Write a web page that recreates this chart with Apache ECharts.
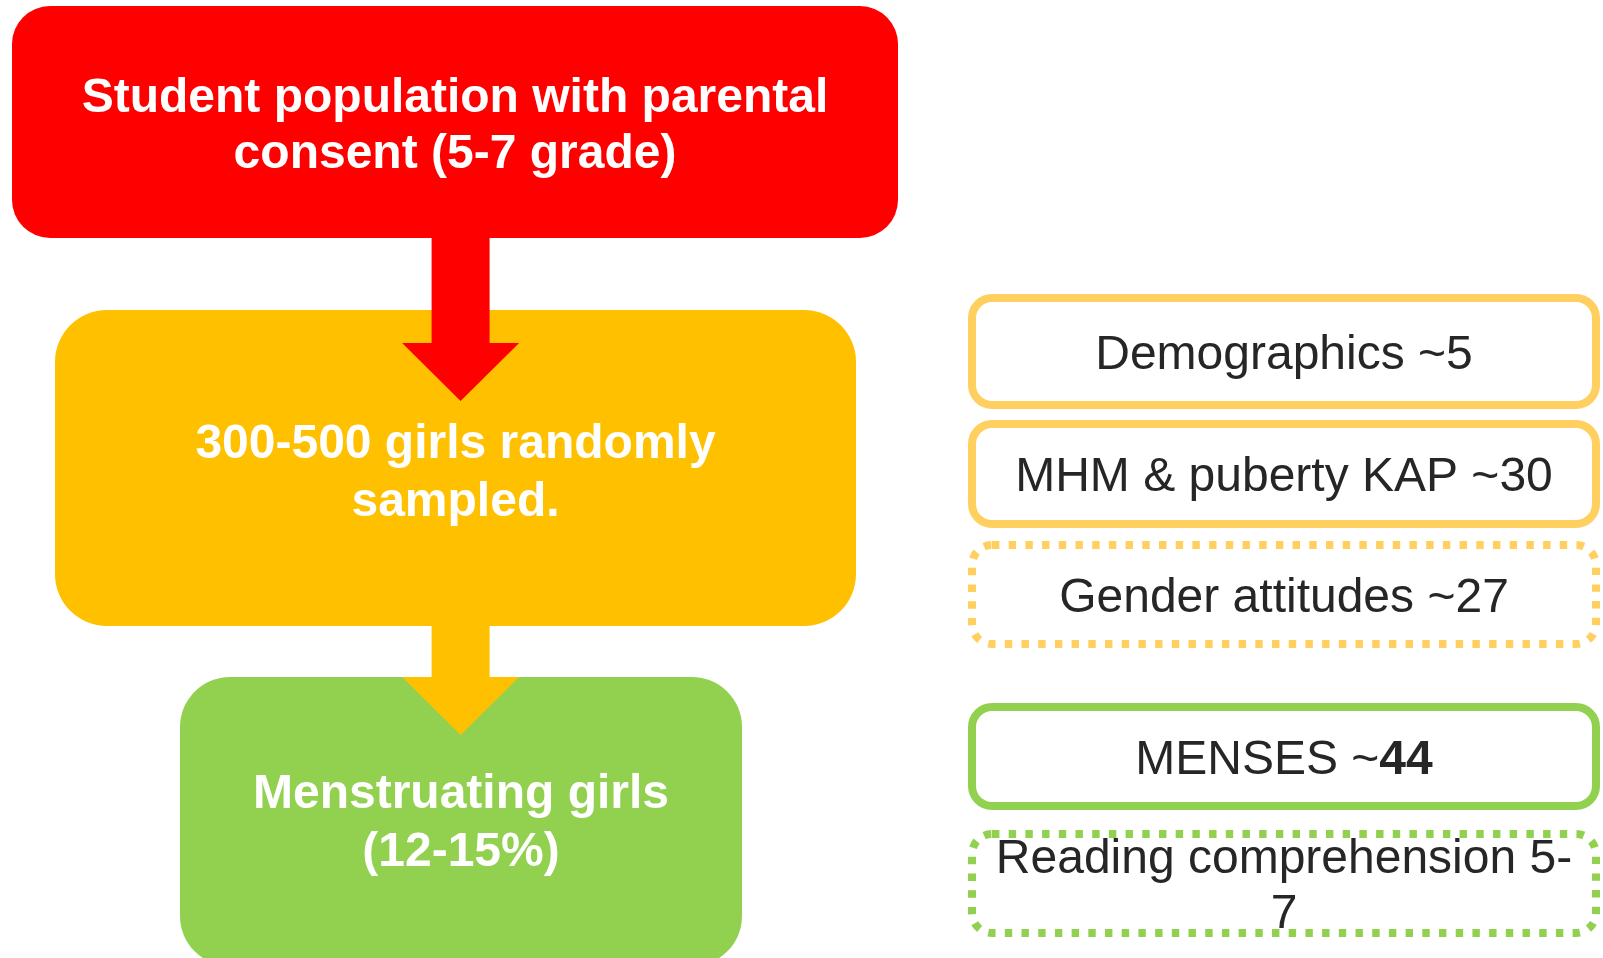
<!DOCTYPE html>
<html>
<head>
<meta charset="utf-8">
<script src="https://cdn.jsdelivr.net/npm/echarts@6/dist/echarts.min.js"></script>
<style>
html,body{margin:0;padding:0;background:#fff;}
#chart{width:1603px;height:958px;}
</style>
</head>
<body>
<div id="chart"></div>
<script>
// ---- content (data) ----
const stageLabels = [
  'Student population with parental\nconsent (5-7 grade)',
  '300-500 girls randomly\nsampled.',
  'Menstruating girls\n(12-15%)'
];
const moduleLabels = [
  'Demographics ~5',
  'MHM & puberty KAP ~30',
  'Gender attitudes ~27',
  'MENSES ~{b|44}',
  'Reading comprehension 5-\n7'
];
const arrowLinks = [[0, 1], [1, 2]];

// ---- layout & styles (pixel units of the hidden axes) ----
const TEXT_SHIFT = 4;
const stageLayout = [
  {x0: 12, y0: 6,   x1: 898, y1: 238, r: 38, color: '#FF0000', ty: 122.8, lh: 56},
  {x0: 55, y0: 310, x1: 856, y1: 626, r: 52, color: '#FFC000', ty: 469.8, lh: 58},
  {x0: 180, y0: 677, x1: 742, y1: 966, r: 50, color: '#92D050', ty: 819.8, lh: 58}
];
const arrowLayout = [
  {cx: 460.6, y0: 238, yh: 343, y1: 401, shaftW: 58, headW: 117, color: '#FF0000'},
  {cx: 460.6, y0: 626, yh: 677, y1: 735, shaftW: 58, headW: 117, color: '#FFC000'}
];
const moduleX = [972, 1596];
const moduleLayout = [
  {y0: 298, y1: 405, color: '#FFCF5F', dotted: false, fs: 48, lh: 55},
  {y0: 424, y1: 524, color: '#FFCF5F', dotted: false, fs: 48, lh: 55},
  {y0: 545, y1: 644, color: '#FFCF5F', dotted: true,  fs: 48, lh: 55},
  {y0: 707, y1: 806, color: '#92D050', dotted: false, fs: 48, lh: 55},
  {y0: 834, y1: 933, color: '#92D050', dotted: true,  fs: 48, lh: 55}
];

const FONT = '"Liberation Sans", Arial, sans-serif';

function renderStage(params, api) {
  const i = api.value(0);
  const L = stageLayout[i];
  const p0 = api.coord([L.x0, L.y0]);
  const p1 = api.coord([L.x1, L.y1]);
  const c = api.coord([(L.x0 + L.x1) / 2, L.ty + TEXT_SHIFT]);
  return {
    type: 'group',
    children: [
      {type: 'rect', shape: {x: p0[0], y: p0[1], width: p1[0] - p0[0], height: p1[1] - p0[1], r: L.r},
       style: {fill: L.color}},
      {type: 'text', z2: 10, style: {
        text: stageLabels[i], x: c[0], y: c[1], align: 'center', verticalAlign: 'middle',
        fill: '#FFFFFF', fontFamily: FONT, fontWeight: 'bold', fontSize: 48, lineHeight: L.lh
      }}
    ]
  };
}

function renderArrow(params, api) {
  const i = api.value(0);
  const A = arrowLayout[i];
  const hs = A.shaftW / 2, hh = A.headW / 2;
  const pts = [
    [A.cx - hs, A.y0], [A.cx + hs, A.y0], [A.cx + hs, A.yh], [A.cx + hh, A.yh],
    [A.cx, A.y1], [A.cx - hh, A.yh], [A.cx - hs, A.yh]
  ].map(p => api.coord(p));
  return {type: 'polygon', shape: {points: pts}, style: {fill: A.color}};
}

function renderModule(params, api) {
  const i = api.value(0);
  const M = moduleLayout[i];
  const p0 = api.coord([moduleX[0], M.y0]);
  const p1 = api.coord([moduleX[1], M.y1]);
  const c = api.coord([(moduleX[0] + moduleX[1]) / 2, (M.y0 + M.y1) / 2 + TEXT_SHIFT]);
  return {
    type: 'group',
    children: [
      {type: 'rect', shape: {x: p0[0], y: p0[1], width: p1[0] - p0[0], height: p1[1] - p0[1], r: 20},
       style: {fill: '#FFFFFF', stroke: M.color, lineWidth: 8,
               lineDash: M.dotted ? [7.4, 9.3] : null, lineCap: 'butt'}},
      {type: 'text', z2: 10, style: {
        text: moduleLabels[i], x: c[0], y: c[1], align: 'center', verticalAlign: 'middle',
        fill: '#262626', fontFamily: FONT, fontSize: M.fs, lineHeight: M.lh,
        rich: {b: {fontFamily: FONT, fontSize: M.fs, fontWeight: 'bold', fill: '#262626', lineHeight: M.lh}}
      }}
    ]
  };
}

const chart = echarts.init(document.getElementById('chart'), null, {renderer: 'canvas'});
chart.setOption({
  animation: false,
  backgroundColor: '#FFFFFF',
  grid: {left: 0, right: 0, top: 0, bottom: 0},
  xAxis: {type: 'value', min: 0, max: 1603, show: false},
  yAxis: {type: 'value', min: 0, max: 958, inverse: true, show: false},
  series: [
    {type: 'custom', name: 'stages', renderItem: renderStage, silent: true, clip: false,
     data: stageLabels.map((_, i) => [i, i]), z: 1},
    {type: 'custom', name: 'arrows', renderItem: renderArrow, silent: true, clip: false,
     data: arrowLinks.map((_, i) => [i, i]), z: 2},
    {type: 'custom', name: 'modules', renderItem: renderModule, silent: true, clip: false,
     data: moduleLabels.map((_, i) => [i, i]), z: 3}
  ]
});
</script>
</body>
</html>
